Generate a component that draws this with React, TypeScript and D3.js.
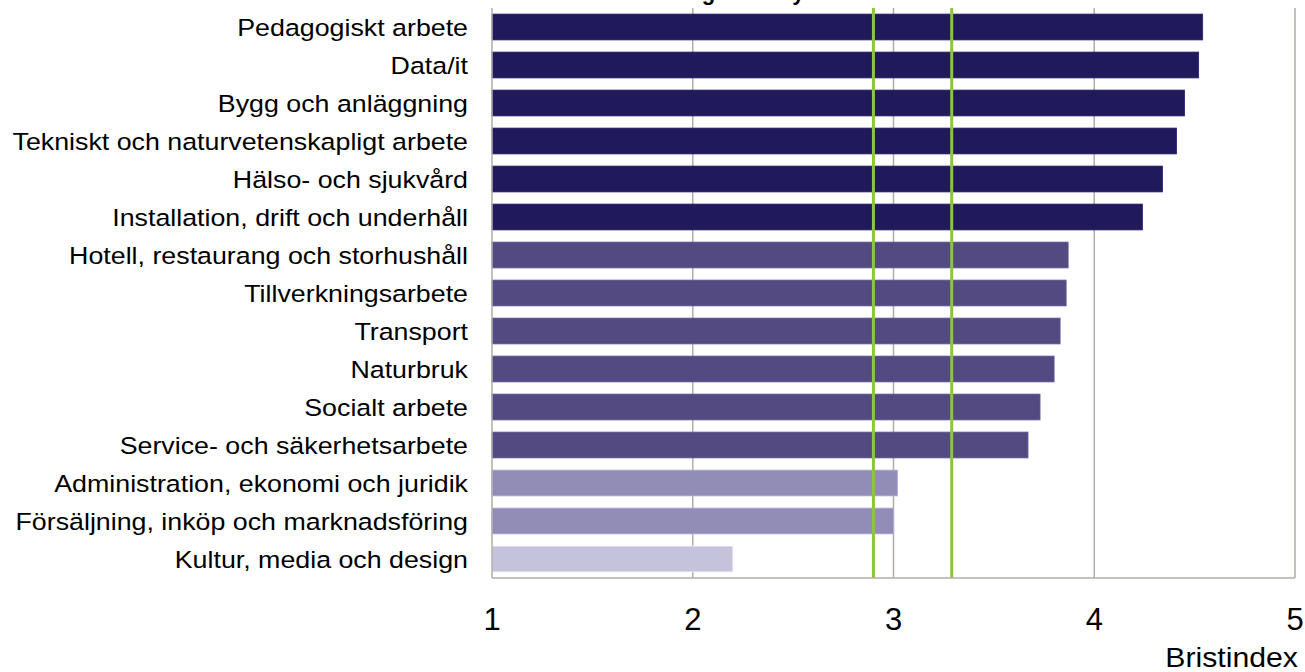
import React from "react";
import * as d3 from "d3";

const categories = [
  "Pedagogiskt arbete",
  "Data/it",
  "Bygg och anläggning",
  "Tekniskt och naturvetenskapligt arbete",
  "Hälso- och sjukvård",
  "Installation, drift och underhåll",
  "Hotell, restaurang och storhushåll",
  "Tillverkningsarbete",
  "Transport",
  "Naturbruk",
  "Socialt arbete",
  "Service- och säkerhetsarbete",
  "Administration, ekonomi och juridik",
  "Försäljning, inköp och marknadsföring",
  "Kultur, media och design",
];
const values = [4.54, 4.52, 4.45, 4.41, 4.34, 4.24, 3.87, 3.86, 3.83, 3.8, 3.73, 3.67, 3.02, 3.0, 2.2];
const groups = [0, 0, 0, 0, 0, 0, 1, 1, 1, 1, 1, 1, 2, 2, 3];
const groupColors = ["#201a5b", "#524a80", "#928db6", "#c5c2db"];
const refLines = [2.9, 3.29];
const xTicks = [1, 2, 3, 4, 5];
const title = "Bristläge inom yrkesområden";
const axisLabel = "Bristindex";

export default function App() {
  const W = 1305, H = 672;
  const left = 492, right = 1295, top = 8, bottom = 578;
  const x = d3.scaleLinear().domain([1, 5]).range([left, right]);
  const y = d3.scaleBand<string>().domain(categories).range([top, bottom]).paddingInner(0.32).paddingOuter(0.16);
  const font = "'Liberation Sans', Arial, sans-serif";
  return (
    <svg width={W} height={H} style={{ position: "absolute", left: 0, top: 0, background: "#fff" }} fontFamily={font}>
      <text x={788} y={0} textAnchor="middle" fontSize={22} fontWeight="bold" fill="#000">{title}</text>
      {xTicks.slice(1).map((t) => (
        <line key={t} x1={x(t)} x2={x(t)} y1={top} y2={bottom} stroke="#b3ada5" strokeWidth={1.5} />
      ))}
      {categories.map((c, i) => (
        <rect key={c} x={x(1)} y={y(c)!} width={x(values[i]) - x(1)} height={y.bandwidth()}
          fill={groupColors[groups[i]]} stroke={d3.color(groupColors[groups[i]])!.brighter(0.6).toString()} strokeWidth={0.8} />
      ))}
      {categories.map((c) => (
        <text key={c} transform={`translate(468,${y(c)! + y.bandwidth() / 2 + 1}) scale(1.14,1)`} dy="0.36em" textAnchor="end" fontSize={23.5} fill="#000">{c}</text>
      ))}
      {refLines.map((v) => (
        <line key={v} x1={x(v)} x2={x(v)} y1={top} y2={bottom} stroke="#8cc63f" strokeWidth={3} />
      ))}
      <line x1={left} x2={left} y1={top} y2={bottom} stroke="#b3ada5" strokeWidth={1.5} />
      <line x1={left} x2={right} y1={bottom} y2={bottom} stroke="#b3ada5" strokeWidth={1.5} />
      {xTicks.map((t) => (
        <text key={t} x={x(t)} y={630} textAnchor="middle" fontSize={31} fill="#000">{t}</text>
      ))}
      <text transform="translate(1298,667) scale(1.08,1)" textAnchor="end" fontSize={28} fill="#000">{axisLabel}</text>
    </svg>
  );
}
